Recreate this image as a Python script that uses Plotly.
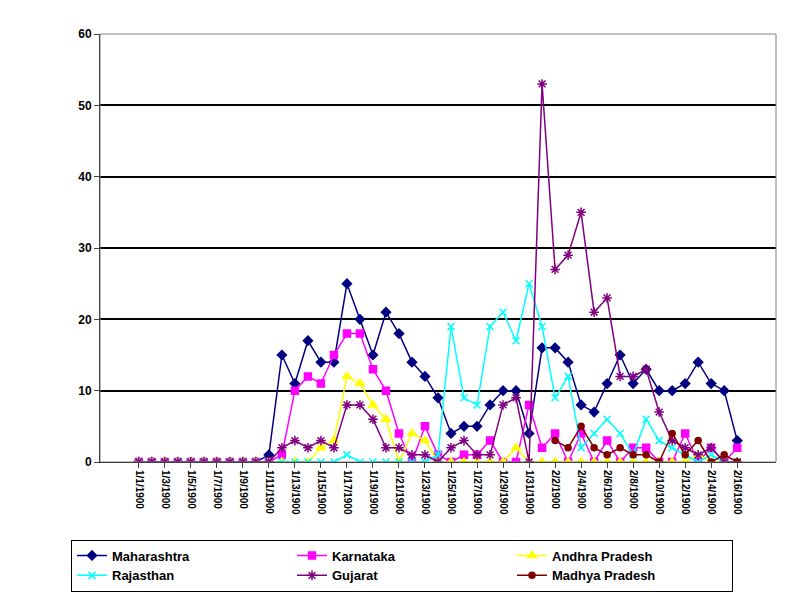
import pandas as pd
import plotly.graph_objects as go

dates = pd.date_range("1900-01-01", "1900-02-16").strftime("%-m/%-d/%Y").tolist()

maharashtra = [0]*10 + [1, 15, 11, 17, 14, 14, 25, 20, 15, 21, 18, 14, 12, 9, 4, 5, 5, 8, 10, 10, 4,
                        16, 16, 14, 8, 7, 11, 15, 11, 13, 10, 10, 11, 14, 11, 10, 3]
karnataka = [0]*10 + [0, 1, 10, 12, 11, 15, 18, 18, 13, 10, 4, 0, 5, 1, 0, 1, 1, 3, 0, 0, 8,
                      2, 4, 0, 4, 0, 3, 0, 2, 2, 0, 0, 4, 0, 2, 0, 2]
andhra = [0]*10 + [0, 0, 0, 0, 2, 3, 12, 11, 8, 6, 0, 4, 3, 0, 0, 0, 0, 0, 0, 2, 0,
                   0, 0, 0, 0, 0, 0, 0, 0, 0, 0, 0, 0, 1, 0, 0, 0]
rajasthan = [0]*10 + [0, 0, 0, 0, 0, 0, 1, 0, 0, 0, 0, 0, 0, 1, 19, 9, 8, 19, 21, 17, 25,
                      19, 9, 12, 2, 4, 6, 4, 1, 6, 3, 2, 1, 0, 1, 0, 0]
gujarat = [0]*10 + [0, 2, 3, 2, 3, 2, 8, 8, 6, 2, 2, 1, 1, 0, 2, 3, 1, 1, 8, 9, 0,
                    53, 27, 29, 35, 21, 23, 12, 12, 13, 7, 3, 2, 1, 2, 0, 0]
madhya = [None]*31 + [None, 3, 2, 5, 2, 1, 2, 1, 1, 0, 4, 1, 3, 0, 1, 0]

series = [
    ("Maharashtra", maharashtra, "#000080", "diamond", 7),
    ("Karnataka", karnataka, "#FF00FF", "square", 7),
    ("Andhra Pradesh", andhra, "#FFFF00", "triangle-up", 8),
    ("Rajasthan", rajasthan, "#00FFFF", "x-thin", 7),
    ("Gujarat", gujarat, "#800080", "asterisk", 8),
    ("Madhya Pradesh", madhya, "#800000", "circle", 6),
]

fig = go.Figure()
for name, vals, col, sym, sz in series:
    fig.add_trace(go.Scatter(
        x=dates, y=vals, name="<b>" + name + "</b>", mode="lines+markers",
        line=dict(color=col, width=1.5),
        marker=dict(symbol=sym, size=sz, color=col, line=dict(color=col, width=1.5)),
    ))

fig.update_layout(
    width=788, height=604, paper_bgcolor="white", plot_bgcolor="white",
    font=dict(family="Liberation Sans, Arial", size=11, color="black"),
    margin=dict(l=92, r=20, t=26, b=150, autoexpand=False),
    showlegend=True,
    legend=dict(orientation="h", x=0.5, xanchor="center", xref="container",
                y=0.12, yanchor="top", yref="container",
                bordercolor="black", borderwidth=1, entrywidth=175,
                tracegroupgap=0, itemwidth=30,
                font=dict(size=13, family="Liberation Sans, Arial")),
)
fig.update_xaxes(type="category", tickvals=dates[::2], ticktext=["<b>" + d + "</b>" for d in dates[::2]],
                 tickangle=90, showline=True, linecolor="black", mirror=False, ticks="outside",
                 tickfont=dict(size=10), showgrid=False)
fig.update_yaxes(range=[0, 60], dtick=10, showgrid=True, gridcolor="black", gridwidth=1.5,
                 showline=True, linecolor="black", ticks="outside", zeroline=False,
                 tickfont=dict(size=12), tickprefix="<b>", ticksuffix="</b>")
fig.add_shape(type="rect", xref="paper", yref="paper", x0=0, y0=0, x1=1, y1=1,
              line=dict(color="gray", width=1))
fig.write_html("out.html")
